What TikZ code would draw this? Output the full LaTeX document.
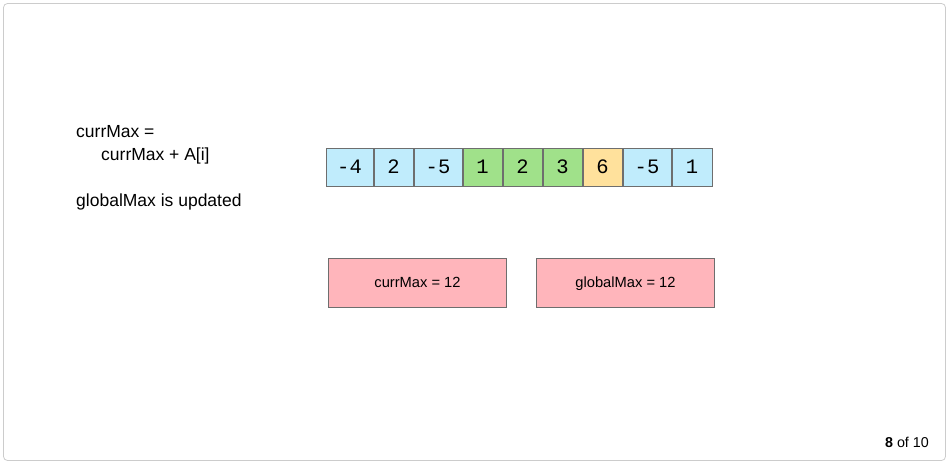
\documentclass[tikz,border=0pt]{standalone}
\usepackage{fontspec}
\setmainfont{Liberation Sans}
\newfontfamily\monof{Liberation Mono}
\definecolor{cblue}{HTML}{C0ECFC}
\definecolor{cgreen}{HTML}{A0E18A}
\definecolor{corange}{HTML}{FFE19C}
\definecolor{cpink}{HTML}{FFB5BB}
\definecolor{cedge}{HTML}{6E6E6E}
\definecolor{frame}{HTML}{CCCCCC}
\begin{document}
\begin{tikzpicture}[x=1pt,y=-1pt,
  cell/.style={draw=cedge,line width=0.8pt,inner sep=0pt,font=\monof\fontsize{20.5}{24}\selectfont,text=black},
  pinkbox/.style={draw=cedge,fill=cpink,line width=0.8pt,inner sep=0pt,text height=11.5pt,text depth=1.5pt,font=\fontsize{14.7}{17}\selectfont},
  lefttext/.style={anchor=base west,inner sep=0pt,font=\fontsize{17.5}{21}\selectfont}]
\useasboundingbox (0,0) rectangle (949,464);
\draw[frame,line width=0.8pt,rounded corners=4] (3.5,3.5) rectangle (945.5,460.5);
% array cells
\foreach \name/\xa/\xb/\val/\col in {c1/326/373/-4/cblue, c2/374/413/2/cblue, c3/414/462/-5/cblue, c4/463/502/1/cgreen, c5/503/542/2/cgreen, c6/543/582/3/cgreen, c7/583/622/6/corange, c8/623/671/-5/cblue, c9/672/712/1/cblue}{
  \node[cell,fill=\col,minimum width={(\xb-\xa)*1pt},minimum height=38pt] (\name) at ({(\xa+\xb)/2},167) {\val};
}
% left text
\node[lefttext] (t1) at (76,137) {currMax =};
\node[lefttext] (t2) at (101,160) {currMax + A[i]};
\node[lefttext] (t3) at (76,206) {globalMax is updated};
% pink boxes
\node[pinkbox,minimum width=178pt,minimum height=49pt] (cm) at (417.5,282.5) {currMax = 12};
\node[pinkbox,minimum width=178pt,minimum height=49pt] (gm) at (625.5,282.5) {globalMax = 12};
% page indicator
\node[anchor=base east,inner sep=0pt,font=\fontsize{14.3}{17}\selectfont] (pg) at (929,447) {\textbf{8} of 10};
\end{tikzpicture}
\end{document}
